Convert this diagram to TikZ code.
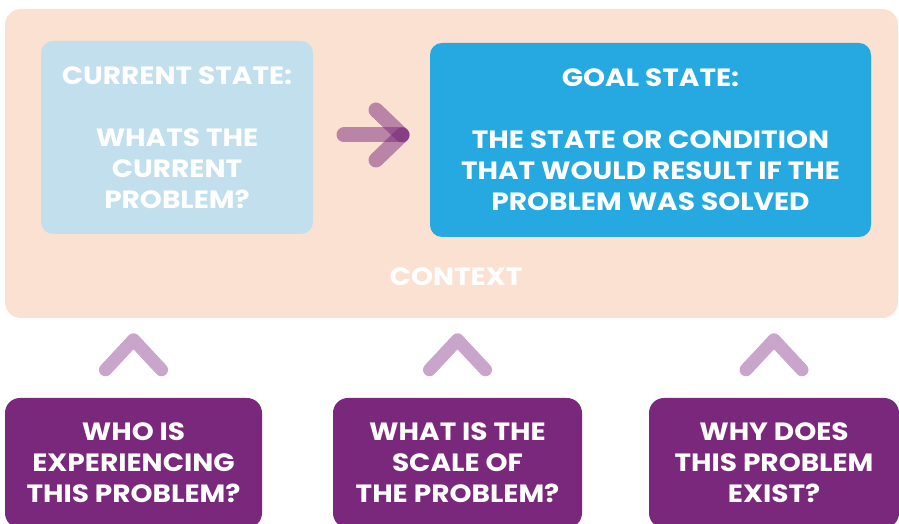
\documentclass[tikz,border=0pt]{standalone}
\usepackage{fontspec}
\setmainfont{Poppins}[FakeStretch=1.12]
\usetikzlibrary{calc,positioning}
\definecolor{peach}{HTML}{FAE1D2}
\definecolor{paleblue}{HTML}{C2DFED}
\definecolor{goalblue}{HTML}{25A9E0}
\definecolor{askpurple}{HTML}{79287C}
\definecolor{chevpurple}{HTML}{C9A5CB}

\begin{document}
\begin{tikzpicture}[x=1pt, y=1pt]
	\tikzstyle{state}=[rounded corners=12, inner sep=0, align=center, text=white,
	font=\bfseries\fontsize{25}{31}\selectfont]
	\tikzstyle{ask}=[state, fill=askpurple, rounded corners=15, minimum height=130]
	\tikzstyle{chev}=[draw=chevpurple, line width=13, line cap=round, line join=round]
	\tikzstyle{pointer}=[draw=askpurple, opacity=0.5, line width=15, line cap=round]
	\clip (0,0) rectangle (899,524);
	\node[fill=peach, rounded corners=16, minimum width=893, minimum height=309] (context) at (451.5,360.5) {};
	\node[state, fill=paleblue, minimum width=272, minimum height=193] (current) at (177,386.5)
	{CURRENT STATE:\\[31pt] WHATS THE\\ CURRENT\\ PROBLEM?};
	\node[state, fill=goalblue, minimum width=441, minimum height=194] (goal) at (650.5,384)
	{GOAL STATE:\\[31pt] THE STATE OR CONDITION\\ THAT WOULD RESULT IF THE\\ PROBLEM WAS SOLVED};
	\node[state] (ctxlabel) at (456,247) {CONTEXT};
	% the three questions
	\node[ask, minimum width=257] (who) at (133.5,61) {WHO IS\\ EXPERIENCING\\ THIS PROBLEM?};
	\node[ask, minimum width=249] (scale) at (457.5,61) {WHAT IS THE\\ SCALE OF\\ THE PROBLEM?};
	\node[ask, minimum width=250] (why) at (774,61) {WHY DOES\\ THIS PROBLEM\\ EXIST?};
	\foreach \n in {who,scale,why}
		\draw[chev] ($(\n.north)+(-28,28)$) -- ++(28,30) -- ++(28,-30);
	% arrow current -> goal
	\coordinate (tail) at (344,389);
	\coordinate (tip) at (402,389);
	\draw[pointer] (tail) -- (tip);
	\draw[pointer] (tip) -- ++(-26,25);
	\draw[pointer] (tip) -- ++(-26,-25);
\end{tikzpicture}
\end{document}
